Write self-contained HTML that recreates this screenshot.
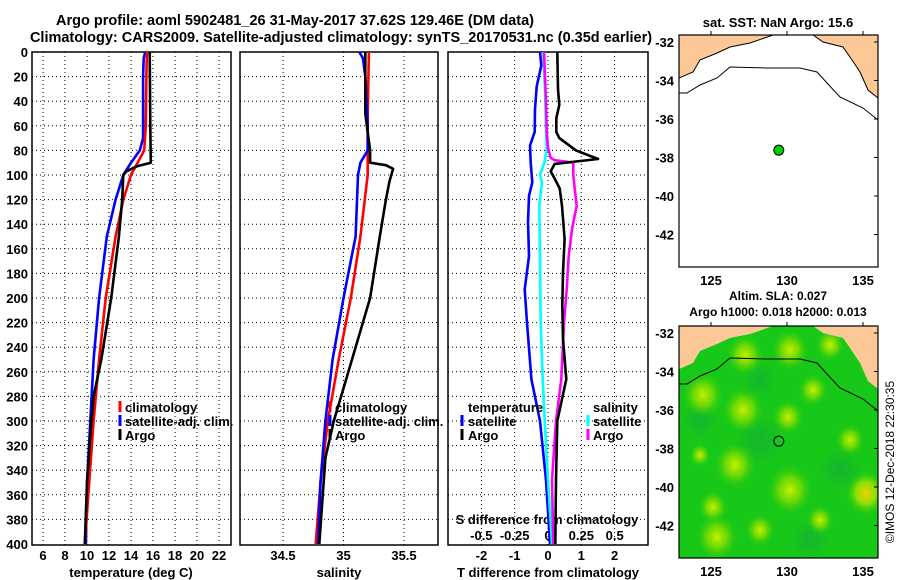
<!DOCTYPE html>
<html><head><meta charset="utf-8"><style>
body{margin:0;background:#fff;}
svg{display:block;font-family:"Liberation Sans",sans-serif;font-weight:bold;}
</style></head><body>
<svg id="c" width="900" height="580" viewBox="0 0 900 580">
<defs>
<clipPath id="cp1"><rect x="32" y="52" width="199" height="493"/></clipPath>
<clipPath id="cp2"><rect x="240" y="52" width="198" height="493"/></clipPath>
<clipPath id="cp3"><rect x="448" y="52" width="200" height="493"/></clipPath>
<clipPath id="cpm1"><rect x="679" y="35" width="199" height="232"/></clipPath>
<clipPath id="cpm2"><rect x="679" y="326" width="199" height="232"/></clipPath>
<radialGradient id="yb"><stop offset="0" stop-color="#c8f000"/><stop offset="0.5" stop-color="#90e000" stop-opacity="0.7"/><stop offset="1" stop-color="#40d000" stop-opacity="0"/></radialGradient>
<radialGradient id="ob"><stop offset="0" stop-color="#f0d000"/><stop offset="0.5" stop-color="#c0e800" stop-opacity="0.7"/><stop offset="1" stop-color="#40d000" stop-opacity="0"/></radialGradient>
<radialGradient id="db"><stop offset="0" stop-color="#10a840" stop-opacity="0.6"/><stop offset="1" stop-color="#10a840" stop-opacity="0"/></radialGradient>
</defs>
<text x="295" y="25" text-anchor="middle" font-size="14.5">Argo profile: aoml 5902481_26 31-May-2017 37.62S 129.46E (DM data)</text>
<text x="341" y="42" text-anchor="middle" font-size="14.5">Climatology: CARS2009. Satellite-adjusted climatology: synTS_20170531.nc (0.35d earlier)</text>
<g id="g"></g>
</svg>
<script>
// ---- data ----
const depthTicks=[0,20,40,60,80,100,120,140,160,180,200,220,240,260,280,300,320,340,360,380,400];
const tTicks=[6,8,10,12,14,16,18,20,22];
const sTicks=[34.5,35,35.5];
const tdTicks=[-2,-1,0,1,2];
const sdTicks=[-0.5,-0.25,0,0.25,0.5];
const sdTickLabels=["-0.5","-0.25","0","0.25","0.5"];
// temperature panel
const tClimDepth=[0,20,60,80,90,100,120,150,200,250,300,350,400];
const tClim=[15.45,15.4,15.35,15.2,14.6,14.0,13.3,12.6,11.7,11.1,10.6,10.2,9.8];
const tSatDepth=[0,5,20,70,80,90,100,120,150,200,250,300,350,400];
const tSat=[15.3,15.15,15.1,15.1,14.8,14.0,13.3,12.6,11.8,11.1,10.6,10.3,10.0,9.9];
const tArgoDepth=[0,60,90,93,97,100,120,150,200,250,280,300,350,400];
const tArgo=[15.7,15.75,15.8,14.5,13.6,13.3,13.2,12.9,12.2,11.3,10.6,10.4,10.0,9.8];
// salinity panel
const sClimDepth=[0,50,100,150,200,250,300,350,400];
const sClim=[35.21,35.2,35.2,35.14,35.06,34.96,34.87,34.81,34.77];
const sSatDepth=[0,5,20,60,80,90,100,150,200,250,300,350,400];
const sSat=[35.13,35.16,35.18,35.2,35.2,35.14,35.12,35.1,35.0,34.91,34.85,34.81,34.79];
const sArgoDepth=[0,50,80,90,92,95,105,120,150,200,250,280,300,330,400];
const sArgo=[35.18,35.18,35.22,35.22,35.35,35.41,35.38,35.35,35.3,35.22,35.07,34.98,34.92,34.85,34.8];
// difference panel
const dTSatDepth=[0,11,28,46,65,76,90,106,117,138,166,193,220,266,300,348,400];
const dTSat=[-0.24,-0.2,-0.34,-0.39,-0.4,-0.54,-0.52,-0.47,-0.57,-0.6,-0.57,-0.7,-0.63,-0.5,-0.24,-0.06,0.06];
const dTArgoDepth=[0,30,43,54,65,70,80,87,89,91,97,103,111,125,152,179,206,233,266,300,348,400];
const dTArgo=[0.28,0.3,0.34,0.25,0.25,0.34,0.84,1.5,0.84,0.2,0.08,0.2,0.35,0.42,0.5,0.45,0.43,0.45,0.55,0.28,0.24,0.22];
const dSSatDepth=[0,38,65,78,89,100,106,125,170,220,266,300,348,400];
const dSSat=[-0.035,-0.02,-0.015,-0.01,-0.025,-0.06,-0.045,-0.065,-0.06,-0.055,-0.04,-0.025,0.0,0.03];
const dSArgoDepth=[0,40,65,78,86,88,90,100,111,125,144,166,193,220,266,300,348,400];
const dSArgo=[-0.03,-0.015,-0.01,0.0,0.02,0.05,0.19,0.19,0.2,0.215,0.18,0.155,0.14,0.12,0.1,0.06,0.03,0.04];
// map
const argoLon=129.46, argoLat=-37.62;
const lonTicks=[125,130,135];
const latTicks=[-32,-34,-36,-38,-40,-42];

// ---- helpers ----
const NS="http://www.w3.org/2000/svg";
const G=document.getElementById('g');
function mk(tag,attrs,parent){const e=document.createElementNS(NS,tag);for(const k in attrs)e.setAttribute(k,attrs[k]);(parent||G).appendChild(e);return e;}
const yD=d=>52+d*1.23;
const xT=t=>43+(t-6)*11;
const xS=s=>343.5+(s-35)*121;
const xTd=d=>548+d*33.3;
const xSd=d=>548+d*133.3;
const xLon=l=>711+(l-125)*15.2;
const yLat1=l=>42+(-32-l)*19.25;
const yLat2=l=>333+(-32-l)*19.25;

function panel(x0,x1,gridXs,name){
  depthTicks.forEach(d=>{
    if(d>0&&d<400){const l=mk('line',{x1:x0,x2:x1,y1:yD(d),y2:yD(d),stroke:'#000','stroke-width':1,'stroke-dasharray':'1,3'});
    
    }
  });
  gridXs.forEach(x=>{const l=mk('line',{x1:x,x2:x,y1:52,y2:545,stroke:'#000','stroke-width':1,'stroke-dasharray':'1,3'});
    
    });
  const r=mk('rect',{x:x0,y:52,width:x1-x0,height:493,fill:'none',stroke:'#000','stroke-width':1.5});
  
  
}
function line(xs,ds,xf,color,clip,name,w){
  const p=xs.map((v,i)=>(i?'L':'M')+xf(v).toFixed(1)+','+yD(ds[i]).toFixed(1)).join('');
  const e=mk('path',{d:p,fill:'none',stroke:color,'stroke-width':w||2.6,'clip-path':'url(#'+clip+')','stroke-linejoin':'round'});
  
  
}
function txt(x,y,s,anchor,size,name,extra){
  const e=mk('text',Object.assign({x:x,y:y,'text-anchor':anchor||'middle','font-size':size||13},extra||{}));
  e.textContent=s;
  
  
  return e;
}
function legendMark(x,y,color){
  const e=mk('line',{x1:x,x2:x,y1:y-11,y2:y,stroke:color,'stroke-width':3});
  
  
}

// ---- panel 1: temperature ----
panel(32,231,tTicks.map(xT),'temperature-panel-frame');
depthTicks.forEach(d=>txt(28,yD(d)+5,String(d),'end',13,'y-tick-label'));
tTicks.forEach(t=>txt(xT(t),560,String(t),'middle',13,'x-tick-label'));
txt(131,577,'temperature (deg C)','middle',13,'x-axis-title-temperature');
line(tSat,tSatDepth,xT,'#0000ff','cp1','series-temp-satellite');
line(tClim,tClimDepth,xT,'#ff0000','cp1','series-temp-climatology');
line(tArgo,tArgoDepth,xT,'#000','cp1','series-temp-argo');
legendMark(120,412,'#ff0000');txt(125,412,'climatology','start',13,'legend-climatology');
legendMark(120,426,'#0000ff');txt(125,426,'satellite-adj. clim.','start',13,'legend-satellite');
legendMark(120,440,'#000');txt(125,440,'Argo','start',13,'legend-argo');

// ---- panel 2: salinity ----
panel(240,438,sTicks.map(xS),'salinity-panel-frame');
sTicks.forEach(s=>txt(xS(s),560,String(s),'middle',13,'x-tick-label'));
txt(339,577,'salinity','middle',13,'x-axis-title-salinity');
line(sClim,sClimDepth,xS,'#ff0000','cp2','series-sal-climatology');
line(sSat,sSatDepth,xS,'#0000ff','cp2','series-sal-satellite');
line(sArgo,sArgoDepth,xS,'#000','cp2','series-sal-argo');
legendMark(330,412,'#ff0000');txt(335,412,'climatology','start',13,'legend-climatology');
legendMark(330,426,'#0000ff');txt(335,426,'satellite-adj. clim.','start',13,'legend-satellite');
legendMark(330,440,'#000');txt(335,440,'Argo','start',13,'legend-argo');

// ---- panel 3: differences ----
panel(448,648,tdTicks.map(xTd),'difference-panel-frame');
tdTicks.forEach(t=>txt(xTd(t),560,String(t),'middle',13,'x-tick-label-tdiff'));
sdTicks.forEach((s,i)=>txt(xSd(s),540,sdTickLabels[i],'middle',13,'x-tick-label-sdiff'));
txt(547,524,'S difference from climatology','middle',13,'sdiff-axis-title');
txt(548,577,'T difference from climatology','middle',13,'x-axis-title-tdiff');
line(dTSat,dTSatDepth,xTd,'#0000ff','cp3','series-tdiff-satellite');
line(dSSat,dSSatDepth,xSd,'#00ffff','cp3','series-sdiff-satellite');
line(dSArgo,dSArgoDepth,xSd,'#ff00ff','cp3','series-sdiff-argo');
line(dTArgo,dTArgoDepth,xTd,'#000','cp3','series-tdiff-argo');
txt(468,412,'temperature','start',13,'legend-temperature-heading');
legendMark(462,426,'#0000ff');txt(468,426,'satellite','start',13,'legend-tsat');
legendMark(462,440,'#000');txt(468,440,'Argo','start',13,'legend-targo');
txt(593,412,'salinity','start',13,'legend-salinity-heading');
legendMark(588,426,'#00ffff');txt(593,426,'satellite','start',13,'legend-ssat');
legendMark(588,440,'#ff00ff');txt(593,440,'Argo','start',13,'legend-sargo');

// ---- maps ----
const coast=[[679,78],[693,72],[700,60],[717,53],[730,47],[750,43],[773,35],[813,35],[823,42],[843,47],[852,60],[860,72],[868,90],[878,98]];
const iso=[[679,93],[687,93],[700,85],[717,78],[730,67],[767,68],[800,68],[817,72],[827,83],[840,97],[863,108],[878,120]];
function mapFrame(top,clip,name){
  const g=mk('g',{'clip-path':'url(#'+clip+')'});
  
  
  return g;
}
// top map
const m1=mapFrame(35,'cpm1','sst-map');
mk('rect',{x:679,y:35,width:199,height:232,fill:'#fff'},m1);
mk('path',{d:'M679,30 L'+coast.map(p=>p[0]+','+p[1]).join(' L')+' L878,30 Z',fill:'#fcc996',stroke:'#000','stroke-width':1},m1);
mk('path',{d:'M'+iso.map(p=>p[0]+','+p[1]).join(' L'),fill:'none',stroke:'#000','stroke-width':1},m1);
const dot=mk('circle',{cx:xLon(argoLon),cy:yLat1(argoLat),r:5,fill:'#00cc00',stroke:'#000','stroke-width':1});


mk('rect',{x:679,y:35,width:199,height:232,fill:'none',stroke:'#000','stroke-width':1.2});
txt(778,27,'sat. SST: NaN Argo: 15.6','middle',13,'sst-map-title');
// bottom map
const m2=mapFrame(326,'cpm2','sla-map');
mk('rect',{x:679,y:326,width:199,height:232,fill:'#18c818'},m2);
[[760,440,25],[840,470,22],[700,420,18],[810,540,20],[760,380,18]].forEach(b=>mk('ellipse',{cx:b[0],cy:b[1],rx:b[2],ry:b[2],fill:'url(#db)'},m2));
const blobs=[[703,395,20],[743,410,20],[788,417,15],[735,465,20],[713,507,14],[790,490,22],[866,493,20],[813,390,14],[717,537,20],[820,520,13],[745,355,18],[790,350,18],[830,345,14],[760,530,14],[850,440,14],[700,455,10]];
blobs.forEach((b,i)=>mk('ellipse',{cx:b[0],cy:b[1],rx:b[2],ry:b[2]*1.1,fill:i==6?'url(#ob)':'url(#yb)'},m2));
mk('path',{d:'M679,320 L'+coast.map(p=>p[0]+','+(p[1]+291)).join(' L')+' L878,320 Z',fill:'#fcc996',stroke:'none'},m2);
mk('path',{d:'M'+iso.map(p=>p[0]+','+(p[1]+291)).join(' L'),fill:'none',stroke:'#000','stroke-width':1},m2);
const dot2=mk('circle',{cx:xLon(argoLon),cy:yLat2(argoLat),r:5,fill:'none',stroke:'#000','stroke-width':1});


mk('rect',{x:679,y:326,width:199,height:232,fill:'none',stroke:'#000','stroke-width':1.2});
txt(778,300,'Altim. SLA: 0.027','middle',12,'sla-map-title-1');
txt(778,316,'Argo h1000: 0.018 h2000: 0.013','middle',12,'sla-map-title-2');
latTicks.forEach(l=>{txt(674,yLat1(l)+5,String(l),'end',13,'map-lat-label');txt(674,yLat2(l)+5,String(l),'end',13,'map-lat-label');
  mk('line',{x1:878,x2:874,y1:yLat1(l),y2:yLat1(l),stroke:'#000'});mk('line',{x1:878,x2:874,y1:yLat2(l),y2:yLat2(l),stroke:'#000'});});
lonTicks.forEach(l=>{txt(xLon(l),285,String(l),'middle',13,'map-lon-label');txt(xLon(l),576,String(l),'middle',13,'map-lon-label');
  mk('line',{x1:xLon(l),x2:xLon(l),y1:35,y2:31,stroke:'#000'});mk('line',{x1:xLon(l),x2:xLon(l),y1:326,y2:322,stroke:'#000'});});
txt(0,0,'©IMOS 12-Dec-2018 22:30:35','middle',12,'copyright-stamp',{transform:'translate(894,462) rotate(-90)','font-weight':'normal'});
</script>
</body></html>
